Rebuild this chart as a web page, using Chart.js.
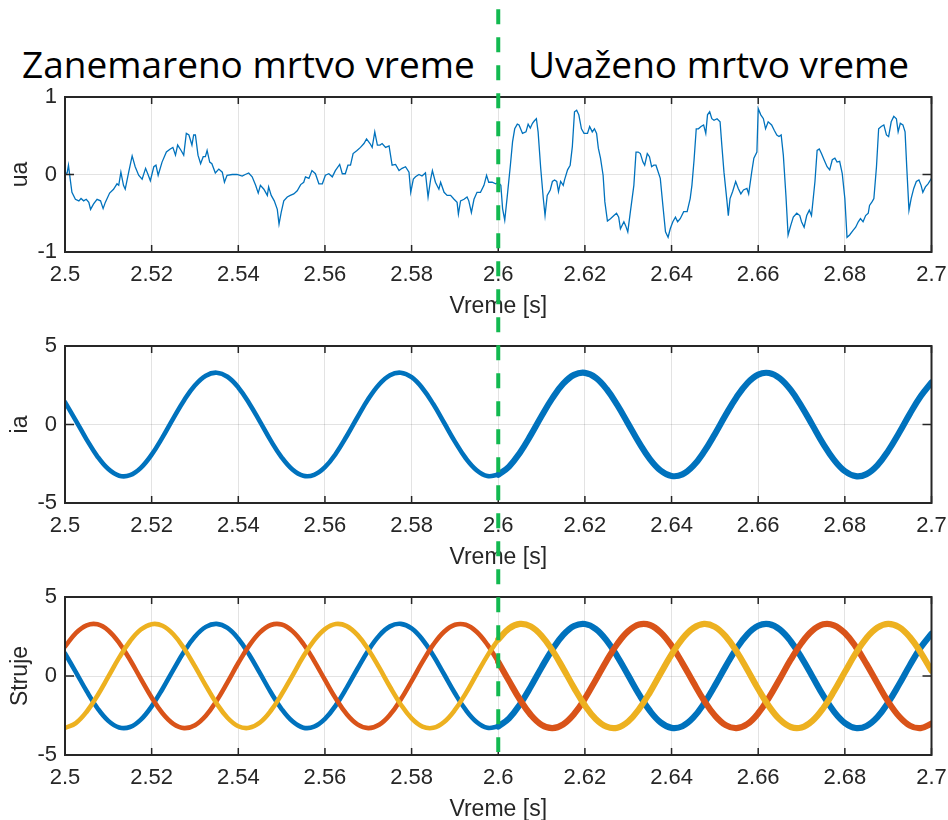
<!DOCTYPE html>
<html>
<head>
<meta charset="utf-8">
<script src="https://cdn.jsdelivr.net/npm/chart.js@4.4.1/dist/chart.umd.min.js"></script>
<style>
html,body{margin:0;padding:0;background:#fff;}
#wrap{position:relative;width:948px;height:820px;overflow:hidden;background:#fff;}
canvas{position:absolute;left:0;}
.ttl{position:absolute;font-family:'Open Sans',sans-serif;font-size:37px;line-height:1;color:#000;white-space:nowrap;}
</style>
</head>
<body>
<div id="wrap">
  <div class="ttl" id="t1" style="left:22px;top:45px;">Zanemareno mrtvo vreme</div>
  <div class="ttl" id="t2" style="left:528px;top:45px;">Uvaženo mrtvo vreme</div>
  <canvas id="c1" width="948" height="320" style="top:0px"></canvas>
  <canvas id="c2" width="948" height="251" style="top:320px"></canvas>
  <canvas id="c3" width="948" height="252" style="top:571px"></canvas>
</div>
<script>
// ---------- data ----------
const xTickValues = [2.5, 2.52, 2.54, 2.56, 2.58, 2.6, 2.62, 2.64, 2.66, 2.68, 2.7];
const xTickLabels = ['2.5', '2.52', '2.54', '2.56', '2.58', '2.6', '2.62', '2.64', '2.66', '2.68', '2.7'];
const uaTickValues = [-1, 0, 1];
const uaTickLabels = ['-1', '0', '1'];
const iTickValues = [-5, 0, 5];
const iTickLabels = ['-5', '0', '5'];
const xLabel = 'Vreme [s]';
const yLabels = ['ua', 'ia', 'Struje'];
const splitTime = 2.6;

// phase voltage ua
const uaTime = [
  2.5000,2.5005,2.5008,2.5012,2.5016,2.5024,2.5032,2.5037,2.5043,2.5049,
  2.5055,2.5059,2.5066,2.5074,2.5082,2.5088,2.5093,2.5103,2.5112,2.5120,
  2.5124,2.5129,2.5135,2.5139,2.5147,2.5155,2.5162,2.5170,2.5178,2.5186,
  2.5191,2.5197,2.5205,2.5210,2.5215,2.5224,2.5234,2.5243,2.5249,2.5255,
  2.5260,2.5268,2.5274,2.5280,2.5286,2.5293,2.5297,2.5301,2.5307,2.5313,
  2.5319,2.5324,2.5328,2.5334,2.5339,2.5347,2.5355,2.5363,2.5368,2.5374,
  2.5386,2.5397,2.5409,2.5416,2.5424,2.5432,2.5440,2.5446,2.5451,2.5459,
  2.5467,2.5470,2.5476,2.5483,2.5490,2.5494,2.5499,2.5505,2.5513,2.5520,
  2.5528,2.5536,2.5544,2.5551,2.5555,2.5563,2.5570,2.5578,2.5586,2.5594,
  2.5601,2.5609,2.5617,2.5624,2.5634,2.5640,2.5647,2.5653,2.5659,2.5665,
  2.5674,2.5682,2.5690,2.5696,2.5704,2.5709,2.5715,2.5721,2.5727,2.5732,
  2.5740,2.5748,2.5755,2.5763,2.5771,2.5778,2.5786,2.5794,2.5798,2.5804,
  2.5809,2.5817,2.5824,2.5832,2.5838,2.5844,2.5848,2.5855,2.5863,2.5867,
  2.5875,2.5882,2.5890,2.5898,2.5905,2.5908,2.5913,2.5921,2.5928,2.5932,
  2.5938,2.5944,2.5951,2.5959,2.5967,2.5973,2.5978,2.5986,2.5994,2.6000,
  2.6006,2.6010,2.6015,2.6021,2.6028,2.6033,2.6038,2.6044,2.6048,2.6056,
  2.6064,2.6069,2.6074,2.6079,2.6083,2.6088,2.6092,2.6098,2.6104,2.6108,
  2.6113,2.6120,2.6125,2.6130,2.6135,2.6139,2.6144,2.6150,2.6153,2.6160,
  2.6166,2.6171,2.6176,2.6181,2.6186,2.6192,2.6198,2.6206,2.6211,2.6217,
  2.6222,2.6227,2.6231,2.6236,2.6242,2.6246,2.6252,2.6259,2.6267,2.6273,
  2.6278,2.6282,2.6290,2.6294,2.6299,2.6305,2.6313,2.6318,2.6323,2.6328,
  2.6334,2.6338,2.6344,2.6349,2.6354,2.6359,2.6364,2.6374,2.6380,2.6386,
  2.6392,2.6397,2.6403,2.6409,2.6414,2.6420,2.6428,2.6436,2.6443,2.6447,
  2.6452,2.6457,2.6462,2.6468,2.6474,2.6479,2.6483,2.6488,2.6493,2.6498,
  2.6505,2.6512,2.6516,2.6521,2.6528,2.6531,2.6535,2.6541,2.6548,2.6554,
  2.6560,2.6566,2.6574,2.6578,2.6585,2.6590,2.6597,2.6600,2.6606,2.6612,
  2.6617,2.6623,2.6631,2.6637,2.6643,2.6648,2.6653,2.6658,2.6664,2.6669,
  2.6675,2.6681,2.6689,2.6696,2.6700,2.6706,2.6712,2.6718,2.6723,2.6731,
  2.6736,2.6741,2.6746,2.6752,2.6759,2.6765,2.6771,2.6777,2.6782,2.6788,
  2.6794,2.6800,2.6805,2.6811,2.6819,2.6825,2.6831,2.6836,2.6842,2.6848,
  2.6854,2.6857,2.6863,2.6867,2.6873,2.6878,2.6884,2.6890,2.6896,2.6901,
  2.6907,2.6913,2.6919,2.6923,2.6928,2.6934,2.6939,2.6943,2.6948,2.6953,
  2.6959,2.6965,2.6971,2.6976,2.6980,2.6986,2.6992,2.7000
];
const uaValue = [
  0.01,0.02,0.12,-0.06,-0.23,-0.32,-0.34,-0.31,-0.34,-0.32,
  -0.36,-0.45,-0.38,-0.32,-0.34,-0.44,-0.36,-0.24,-0.19,-0.12,
  -0.14,0.03,-0.14,-0.19,0.03,0.24,0.10,-0.01,-0.06,0.08,
  0.01,-0.08,0.10,0.12,-0.01,0.16,0.29,0.33,0.35,0.25,
  0.38,0.31,0.25,0.53,0.51,0.38,0.51,0.51,0.25,0.14,
  0.23,0.23,0.31,0.16,0.14,0.02,0.07,0.03,-0.10,-0.01,
  0.00,0.00,-0.02,0.00,0.02,-0.03,-0.14,-0.24,-0.14,-0.19,
  -0.27,-0.16,-0.27,-0.34,-0.45,-0.64,-0.49,-0.34,-0.29,-0.27,
  -0.25,-0.21,-0.13,-0.10,-0.03,-0.05,0.05,0.01,-0.12,-0.12,
  -0.01,0.01,-0.03,0.05,0.13,0.01,0.01,0.12,0.12,0.27,
  0.31,0.35,0.40,0.46,0.40,0.35,0.55,0.38,0.38,0.40,
  0.35,0.37,0.12,0.13,0.05,0.08,0.10,0.03,-0.23,-0.06,
  -0.03,0.00,-0.02,0.02,-0.29,-0.06,0.05,-0.10,-0.19,-0.10,
  -0.23,-0.27,-0.27,-0.32,-0.36,-0.51,-0.34,-0.32,-0.29,-0.34,
  -0.49,-0.32,-0.23,-0.23,-0.14,-0.01,-0.10,-0.10,-0.12,-0.10,
  -0.14,-0.44,-0.59,-0.27,0.12,0.42,0.59,0.65,0.64,0.53,
  0.55,0.65,0.60,0.66,0.69,0.72,0.55,0.08,-0.31,-0.53,
  -0.27,-0.20,-0.09,-0.07,-0.09,-0.22,-0.09,-0.14,-0.07,0.06,
  0.12,0.36,0.81,0.83,0.77,0.59,0.53,0.53,0.62,0.55,
  0.59,0.53,0.34,0.21,-0.01,-0.35,-0.60,-0.57,-0.53,-0.50,
  -0.55,-0.70,-0.61,-0.66,-0.74,-0.48,-0.14,0.29,0.29,0.27,
  0.16,0.12,0.27,0.23,0.10,0.12,0.12,-0.05,-0.40,-0.74,
  -0.81,-0.70,-0.61,-0.55,-0.61,-0.57,-0.48,-0.48,-0.31,-0.14,
  0.19,0.59,0.59,0.62,0.64,0.53,0.77,0.81,0.72,0.70,
  0.72,0.68,0.38,0.03,-0.35,-0.53,-0.31,-0.22,-0.09,-0.18,
  -0.25,-0.20,-0.18,-0.25,0.03,0.21,0.29,0.85,0.77,0.72,
  0.59,0.68,0.64,0.57,0.51,0.49,0.51,0.25,-0.27,-0.78,
  -0.66,-0.55,-0.50,-0.53,-0.61,-0.68,-0.53,-0.46,-0.53,-0.09,
  0.31,0.33,0.27,0.19,0.10,0.06,0.19,0.21,0.16,0.17,
  0.01,-0.31,-0.81,-0.78,-0.72,-0.68,-0.61,-0.57,-0.61,-0.53,
  -0.50,-0.40,-0.35,-0.31,0.10,0.59,0.62,0.64,0.51,0.49,
  0.68,0.75,0.72,0.55,0.66,0.64,0.55,0.08,-0.46,-0.31,
  -0.18,-0.09,-0.07,-0.14,-0.23,-0.16,-0.12,-0.05
];

// phase currents (every 2.5 ms)
const iTime = [
  2.5000,2.5025,2.5050,2.5075,2.5100,2.5125,2.5150,2.5175,2.5200,2.5225,
  2.5250,2.5275,2.5300,2.5325,2.5350,2.5375,2.5400,2.5425,2.5450,2.5475,
  2.5500,2.5525,2.5550,2.5575,2.5600,2.5625,2.5650,2.5675,2.5700,2.5725,
  2.5750,2.5775,2.5800,2.5825,2.5850,2.5875,2.5900,2.5925,2.5950,2.5975,
  2.6000,2.6025,2.6050,2.6075,2.6100,2.6125,2.6150,2.6175,2.6200,2.6225,
  2.6250,2.6275,2.6300,2.6325,2.6350,2.6375,2.6400,2.6425,2.6450,2.6475,
  2.6500,2.6525,2.6550,2.6575,2.6600,2.6625,2.6650,2.6675,2.6700,2.6725,
  2.6750,2.6775,2.6800,2.6825,2.6850,2.6875,2.6900,2.6925,2.6950,2.6975,
  2.7000
];
const ia = [
  1.43,0.25,-0.96,-2.04,-2.84,-3.26,-3.23,-2.76,-1.92,-0.82,
  0.39,1.55,2.50,3.11,3.30,3.04,2.36,1.36,0.18,-1.03,
  -2.09,-2.87,-3.27,-3.21,-2.72,-1.86,-0.75,0.46,1.62,2.55,
  3.14,3.30,3.01,2.31,1.30,0.11,-1.09,-2.15,-2.91,-3.28,
  -3.20,-2.68,-1.80,-0.68,0.54,1.68,2.60,3.16,3.29,2.98,
  2.26,1.23,0.04,-1.16,-2.20,-2.94,-3.28,-3.18,-2.64,-1.74,
  -0.61,0.61,1.74,2.64,3.18,3.28,2.94,2.20,1.16,-0.03,
  -1.23,-2.25,-2.97,-3.29,-3.16,-2.60,-1.68,-0.54,0.68,1.80,
  2.68
];
const ib = [
  1.86,2.72,3.21,3.27,2.88,2.09,1.03,-0.18,-1.36,-2.36,
  -3.03,-3.30,-3.11,-2.51,-1.56,-0.40,0.82,1.92,2.76,3.23,
  3.26,2.84,2.04,0.96,-0.25,-1.43,-2.41,-3.06,-3.30,-3.09,
  -2.46,-1.49,-0.32,0.89,1.98,2.80,3.24,3.24,2.80,1.98,
  0.89,-0.32,-1.49,-2.46,-3.09,-3.30,-3.06,-2.41,-1.43,-0.25,
  0.96,2.04,2.84,3.26,3.23,2.76,1.92,0.82,-0.39,-1.55,
  -2.50,-3.11,-3.30,-3.04,-2.36,-1.36,-0.18,1.03,2.09,2.87,
  3.27,3.21,2.72,1.86,0.75,-0.46,-1.62,-2.55,-3.14,-3.30,
  -3.01
];
const ic = [
  -3.29,-2.98,-2.26,-1.23,-0.04,1.16,2.20,2.94,3.28,3.18,
  2.64,1.74,0.61,-0.61,-1.74,-2.64,-3.18,-3.28,-2.94,-2.20,
  -1.16,0.03,1.23,2.25,2.97,3.29,3.16,2.60,1.68,0.54,
  -0.68,-1.80,-2.68,-3.20,-3.28,-2.91,-2.15,-1.10,0.11,1.29,
  2.31,3.01,3.30,3.14,2.55,1.62,0.47,-0.75,-1.86,-2.72,
  -3.21,-3.27,-2.88,-2.09,-1.03,0.18,1.36,2.36,3.03,3.30,
  3.11,2.51,1.56,0.40,-0.82,-1.92,-2.76,-3.23,-3.26,-2.84,
  -2.04,-0.96,0.25,1.43,2.41,3.06,3.30,3.09,2.46,1.49,
  0.33
];

// ---------- styling ----------
const BLUE = '#0072BD', RED = '#D95319', YELLOW = '#EDB120';
const GREEN = '#12B950';
const AXIS = '#262626';
const GRID = 'rgba(38,38,38,0.13)';
const FONT = "'Liberation Sans', Arial, Helvetica, sans-serif";
const TICK_FONT = {family: FONT, size: 22};
const LABEL_FONT = {family: FONT, size: 23};

function points(t, v, from, to) {
  const out = [];
  for (let i = 0; i < t.length; i++) {
    if (t[i] >= from - 1e-9 && t[i] <= to + 1e-9) out.push({x: t[i], y: v[i]});
  }
  return out;
}
function currentSets(v, color) {
  return [
    {data: points(iTime, v, 2.5, splitTime), borderColor: color, borderWidth: 4.6, tension: 0.4, borderCapStyle: 'round'},
    {data: points(iTime, v, splitTime, 2.7), borderColor: color, borderWidth: 6.2, tension: 0.4, borderCapStyle: 'round'}
  ];
}

const framePlugin = {
  id: 'frame',
  afterDatasetsDraw(chart) {
    const {ctx, chartArea: a, scales: {x, y}} = chart;
    ctx.save();
    ctx.strokeStyle = AXIS;
    ctx.lineWidth = 1.5;
    ctx.beginPath();
    x.ticks.forEach(t => {
      const px = x.getPixelForValue(t.value);
      ctx.moveTo(px, a.bottom); ctx.lineTo(px, a.bottom - 7);
      ctx.moveTo(px, a.top); ctx.lineTo(px, a.top + 7);
    });
    y.ticks.forEach(t => {
      const py = y.getPixelForValue(t.value);
      ctx.moveTo(a.left, py); ctx.lineTo(a.left + 9, py);
      ctx.moveTo(a.right, py); ctx.lineTo(a.right - 9, py);
    });
    ctx.stroke();
    ctx.lineWidth = 2;
    ctx.strokeRect(a.left, a.top, a.right - a.left, a.bottom - a.top);
    ctx.restore();
  },
  afterDraw(chart, args, opts) {
    const {ctx, scales: {x}} = chart;
    const px = x.getPixelForValue(splitTime);
    const top = opts.canvasTop;
    const y0 = Math.max(0, 9.3 - top);
    const y1 = Math.min(chart.height, 752 - top);
    ctx.save();
    ctx.strokeStyle = GREEN;
    ctx.lineWidth = 4;
    ctx.setLineDash([15, 13]);
    ctx.lineDashOffset = ((y0 + top - 9.3) % 28 + 28) % 28;
    ctx.beginPath();
    ctx.moveTo(px, y0);
    ctx.lineTo(px, y1);
    ctx.stroke();
    ctx.restore();
  }
};

function makeChart(id, canvasTop, padTop, yMin, yMax, yTicks, yTickLabels, yLabel, datasets) {
  return new Chart(document.getElementById(id), {
    type: 'line',
    data: {datasets},
    options: {
      responsive: false,
      animation: false,
      devicePixelRatio: 1,
      layout: {padding: {left: 0, right: 16.5, top: padTop, bottom: 0}},
      elements: {point: {radius: 0}, line: {fill: false}},
      plugins: {
        legend: {display: false},
        tooltip: {enabled: false},
        frame: {canvasTop}
      },
      scales: {
        x: {
          type: 'linear', min: 2.5, max: 2.7,
          afterBuildTicks: s => { s.ticks = xTickValues.map(v => ({value: v})); },
          afterFit: s => { s.height = 68; s.paddingLeft = 0; s.paddingRight = 0; },
          ticks: {callback: (v, i) => xTickLabels[i], font: TICK_FONT, color: AXIS, padding: 10, maxRotation: 0, autoSkip: false},
          grid: {color: GRID, lineWidth: 1, drawTicks: false},
          border: {display: false},
          title: {display: true, text: xLabel, font: LABEL_FONT, color: AXIS, padding: {top: 0, bottom: 0}}
        },
        y: {
          type: 'linear', min: yMin, max: yMax,
          afterBuildTicks: s => { s.ticks = yTicks.map(v => ({value: v})); },
          afterFit: s => { s.width = 65; s.paddingTop = 0; s.paddingBottom = 0; },
          ticks: {callback: (v, i) => yTickLabels[i], font: TICK_FONT, color: AXIS, padding: 8},
          grid: {color: GRID, lineWidth: 1, drawTicks: false},
          border: {display: false},
          title: {display: true, text: yLabel, font: LABEL_FONT, color: AXIS, padding: {top: 7, bottom: 0}}
        }
      }
    },
    plugins: [framePlugin]
  });
}

makeChart('c1', 0, 97, -1, 1, uaTickValues, uaTickLabels, yLabels[0], [
  {data: points(uaTime, uaValue, 2.5, 2.7), borderColor: BLUE, borderWidth: 1.3, tension: 0}
]);
makeChart('c2', 320, 26, -5, 5, iTickValues, iTickLabels, yLabels[1], currentSets(ia, BLUE));
makeChart('c3', 571, 26, -5, 5, iTickValues, iTickLabels, yLabels[2],
  [].concat(currentSets(ic, YELLOW), currentSets(ib, RED), currentSets(ia, BLUE)));
</script>
</body>
</html>
